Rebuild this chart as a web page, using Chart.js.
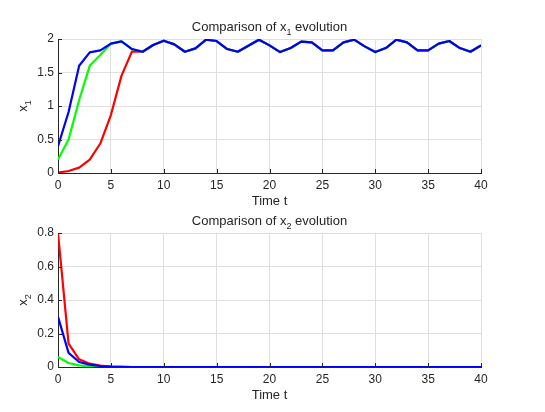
<!DOCTYPE html>
<html>
<head>
<meta charset="utf-8">
<script src="https://cdn.jsdelivr.net/npm/chart.js@4.4.0/dist/chart.umd.min.js"></script>
<style>
  html, body { margin: 0; padding: 0; background: #ffffff; }
  #wrap { position: relative; width: 545px; height: 412px; }
  canvas { position: absolute; left: 0; }
  #c1 { top: 0; }
  #c2 { top: 206px; }
</style>
</head>
<body>
<div id="wrap">
  <canvas id="c1" width="545" height="206"></canvas>
  <canvas id="c2" width="545" height="206"></canvas>
</div>
<script>
// ---- data ----
const timeT = [0,1,2,3,4,5,6,7,8,9,10,11,12,13,14,15,16,17,18,19,20,21,22,23,24,25,26,27,28,29,30,31,32,33,34,35,36,37,38,39,40];

const x1Blue  = [0.40,0.91,1.60,1.80,1.83,1.93,1.965,1.85,1.81,1.91,1.975,1.92,1.81,1.86,1.99,1.97,1.85,1.81,1.90,1.99,1.905,1.805,1.865,1.96,1.95,1.83,1.83,1.95,1.99,1.89,1.805,1.865,1.99,1.95,1.83,1.83,1.93,1.97,1.865,1.81,1.905];
const x1Green = [0.20,0.50,1.09,1.60,1.76,1.93,1.965,1.85,1.81,1.91,1.975,1.92,1.81,1.86,1.99,1.97,1.85,1.81,1.90,1.99,1.905,1.805,1.865,1.96,1.95,1.83,1.83,1.95,1.99,1.89,1.805,1.865,1.99,1.95,1.83,1.83,1.93,1.97,1.865,1.81,1.905];
const x1Red   = [0.005,0.03,0.08,0.20,0.44,0.865,1.45,1.815,1.81,1.91,1.975,1.92,1.81,1.86,1.99,1.97,1.85,1.81,1.90,1.99,1.905,1.805,1.865,1.96,1.95,1.83,1.83,1.95,1.99,1.89,1.805,1.865,1.99,1.95,1.83,1.83,1.93,1.97,1.865,1.81,1.905];

const x2Blue  = [0.30,0.084,0.030,0.014,0.006,0.002,0.001,0,0,0,0,0,0,0,0,0,0,0,0,0,0,0,0,0,0,0,0,0,0,0,0,0,0,0,0,0,0,0,0,0,0];
const x2Green = [0.06,0.024,0.010,0.004,0.002,0.001,0,0,0,0,0,0,0,0,0,0,0,0,0,0,0,0,0,0,0,0,0,0,0,0,0,0,0,0,0,0,0,0,0,0,0];
const x2Red   = [0.80,0.140,0.046,0.020,0.008,0.003,0.001,0,0,0,0,0,0,0,0,0,0,0,0,0,0,0,0,0,0,0,0,0,0,0,0,0,0,0,0,0,0,0,0,0,0];

const xTicksStep = 5;
const y1Ticks = [0, 0.5, 1, 1.5, 2];
const y2Ticks = [0, 0.2, 0.4, 0.6, 0.8];
const y1Labels = ['0', '0.5', '1', '1.5', '2'];
const y2Labels = ['0', '0.2', '0.4', '0.6', '0.8'];

// ---- styling ----
const FONT = '"Liberation Sans", Arial, Helvetica, sans-serif';
const TXT = '#262626';
const GRID = '#dfdfdf';

function pts(ys) { return timeT.map((t, i) => ({ x: t, y: ys[i] })); }

// draw text composed of normal and subscript parts
function drawRich(ctx, parts, x, y, size) {
  const subSize = Math.round(size * 0.72);
  let w = 0;
  parts.forEach(p => {
    ctx.font = (p.sub ? subSize : size) + 'px ' + FONT;
    p.w = ctx.measureText(p.t).width;
    w += p.w;
  });
  let cx = x - w / 2;
  ctx.textAlign = 'left';
  ctx.textBaseline = 'alphabetic';
  parts.forEach(p => {
    ctx.font = (p.sub ? subSize : size) + 'px ' + FONT;
    ctx.fillText(p.t, cx, y + (p.sub ? size * 0.38 : 0));
    cx += p.w;
  });
}

function makeDecor(titleSub, ylabSub) {
  return {
    id: 'decor',
    afterDraw(chart) {
      const ctx = chart.ctx;
      const a = chart.chartArea;
      const xs = chart.scales.x, ys = chart.scales.y;
      ctx.save();
      // inward tick marks
      ctx.strokeStyle = TXT;
      ctx.lineWidth = 1;
      ctx.beginPath();
      xs.ticks.forEach(t => {
        const px = Math.round(xs.getPixelForValue(t.value)) + 0.5;
        ctx.moveTo(px, a.bottom);
        ctx.lineTo(px, a.bottom - 4);
      });
      ys.ticks.forEach(t => {
        const py = Math.round(ys.getPixelForValue(t.value)) + 0.5;
        ctx.moveTo(a.left, py);
        ctx.lineTo(a.left + 4, py);
      });
      ctx.stroke();
      ctx.fillStyle = TXT;
      const cx = (a.left + a.right) / 2;
      // title
      drawRich(ctx, [{t: 'Comparison of x'}, {t: titleSub, sub: true}, {t: ' evolution'}], cx, a.top - 8.5, 13);
      // x label
      drawRich(ctx, [{t: 'Time t'}], cx, a.bottom + 32, 13);
      // y label rotated
      ctx.save();
      ctx.translate(26.5, (a.top + a.bottom) / 2);
      ctx.rotate(-Math.PI / 2);
      drawRich(ctx, [{t: 'x'}, {t: ylabSub, sub: true}], 0, 0, 13);
      ctx.restore();
      ctx.restore();
    }
  };
}

function makeChart(id, red, green, blue, yTicks, yLabels, padTop, xHeight, titleSub) {
  const yMax = yTicks[yTicks.length - 1];
  const yStep = yTicks[1] - yTicks[0];
  return new Chart(document.getElementById(id), {
    type: 'line',
    data: {
      datasets: [
        { data: pts(blue),  borderColor: '#0000ff', order: 1 },
        { data: pts(green), borderColor: '#00ff00', order: 2 },
        { data: pts(red),   borderColor: '#ff0000', order: 3 }
      ]
    },
    options: {
      responsive: false,
      animation: false,
      devicePixelRatio: 1,
      layout: { padding: { left: 0, right: 64, top: padTop, bottom: 0 } },
      elements: {
        line: { borderWidth: 2.2, tension: 0, fill: false, borderJoinStyle: 'round' },
        point: { radius: 0, hoverRadius: 0 }
      },
      plugins: { legend: { display: false }, tooltip: { enabled: false }, title: { display: false } },
      events: [],
      scales: {
        x: {
          type: 'linear', min: 0, max: 40,
          afterFit: s => { s.height = xHeight; },
          ticks: { stepSize: xTicksStep, autoSkip: false, maxRotation: 0, padding: 5,
                   color: TXT, font: { family: FONT, size: 12 } },
          grid: { color: GRID, drawTicks: false, lineWidth: 1 },
          border: { color: TXT, width: 1 }
        },
        y: {
          type: 'linear', min: 0, max: yMax,
          afterFit: s => { s.width = 58; },
          afterBuildTicks: s => { s.ticks = yTicks.map(v => ({ value: v })); },
          ticks: { stepSize: yStep, padding: 4, color: TXT, font: { family: FONT, size: 12 },
                   callback: (v) => { const i = yTicks.indexOf(v); return i >= 0 ? yLabels[i] : String(v); } },
          grid: { color: GRID, drawTicks: false, lineWidth: 1 },
          border: { color: TXT, width: 1 }
        }
      }
    },
    plugins: [makeDecor(titleSub, titleSub)]
  });
}

makeChart('c1', x1Red, x1Green, x1Blue, y1Ticks, y1Labels, 39, 33, '1');
makeChart('c2', x2Red, x2Green, x2Blue, y2Ticks, y2Labels, 27, 45, '2');
</script>
</body>
</html>
